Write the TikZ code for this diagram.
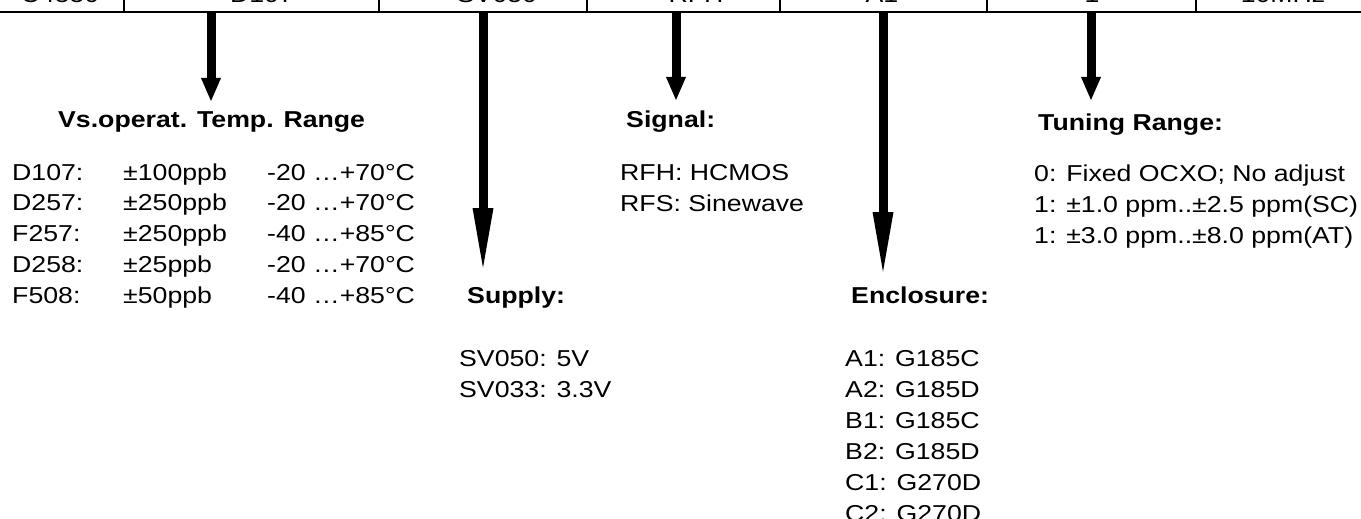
\documentclass[tikz,border=0pt]{standalone}
\usepackage{fontspec}
\setmainfont[FakeStretch=1.16]{Liberation Sans}
\usetikzlibrary{arrows.meta}

\tikzset{
  txt/.style={anchor=base west, inner sep=0pt, font=\fontsize{23}{28}\selectfont},
  head/.style={txt, font=\fontsize{23}{28}\selectfont\bfseries},
  cell/.style={anchor=base, inner sep=0pt, font=\fontsize{23}{28}\selectfont},
  shortarrow/.style={line width=9pt, -{Triangle[length=24pt,width=18pt]}},
  longarrow/.style={line width=9pt, -{Triangle[length=68pt,width=18pt]}}
}

\begin{document}
\begin{tikzpicture}[x=1pt,y=-1pt]
\useasboundingbox (0,0) rectangle (1361,519);
\clip (0,0) rectangle (1361,519);
% code row
\draw[line width=2.2pt] (0,12) -- (1361,12);
\foreach \x in {124,379,587,780,987,1196} \draw[line width=1.4pt] (\x,0) -- (\x,12);
\node[cell] (c1) at (60,3) {C4550};
\node[cell] (c2) at (262,3) {D107};
\node[cell] (c3) at (497,3) {SV050};
\node[cell] (c4) at (696,3) {RFH};
\node[cell] (c5) at (882,3) {A1};
\node[cell] (c6) at (1092,3) {1};
\node[cell] (c7) at (1283,3) {10MHz};
% arrows
\coordinate (tmp-top) at (211,13);  \coordinate (tmp-tip) at (211,102);
\coordinate (sup-top) at (483,13);  \coordinate (sup-tip) at (483,276);
\coordinate (sig-top) at (676,13);  \coordinate (sig-tip) at (676,101);
\coordinate (enc-top) at (883,13);  \coordinate (enc-tip) at (883,280);
\coordinate (tun-top) at (1091,13); \coordinate (tun-tip) at (1091,101);
\draw[shortarrow] (tmp-top) -- (tmp-tip);
\draw[longarrow] (sup-top) -- (sup-tip);
\draw[shortarrow] (sig-top) -- (sig-tip);
\draw[longarrow] (enc-top) -- (enc-tip);
\draw[shortarrow] (tun-top) -- (tun-tip);
% stability vs temperature
\node[head] (tmp) at (58,128) {Vs.operat. Temp. Range};
\foreach \code/\stab/\rng [count=\k] in {D107:/±100ppb/-20 …+70°C,
    D257:/±250ppb/-20 …+70°C, F257:/±250ppb/-40 …+85°C,
    D258:/±25ppb/-20 …+70°C, F508:/±50ppb/-40 …+85°C} {
  \pgfmathsetmacro\yy{149.2+30.8*\k}
  \node[txt] (tc\k) at (12,\yy) {\code};
  \node[txt] (ts\k) at (123,\yy) {\stab};
  \node[txt] (tr\k) at (267,\yy) {\rng};
}
% supply
\node[head] (sup) at (467,303) {Supply:};
\node[txt] (sup1) at (459,366) {SV050: 5V};
\node[txt] (sup2) at (459,397) {SV033: 3.3V};
% signal
\node[head] (sig) at (626,128) {Signal:};
\node[txt] (sig1) at (620,180) {RFH: HCMOS};
\node[txt] (sig2) at (620,211) {RFS: Sinewave};
% enclosure
\node[head] (enc) at (851,303) {Enclosure:};
\foreach \txt [count=\k] in {A1: G185C, A2: G185D, B1: G185C, B2: G185D, C1: G270D, C2: G270D} {
  \pgfmathsetmacro\yy{335+31*\k}
  \node[txt] (enc\k) at (845,\yy) {\txt};
}
% tuning
\node[head] (tun) at (1038,130) {Tuning Range:};
\node[txt] (tun1) at (1034,181) {0: Fixed OCXO; No adjust};
\node[txt] (tun2) at (1034,212) {1: ±1.0 ppm..±2.5 ppm(SC)};
\node[txt] (tun3) at (1034,243) {1: ±3.0 ppm..±8.0 ppm(AT)};
\end{tikzpicture}
\end{document}
